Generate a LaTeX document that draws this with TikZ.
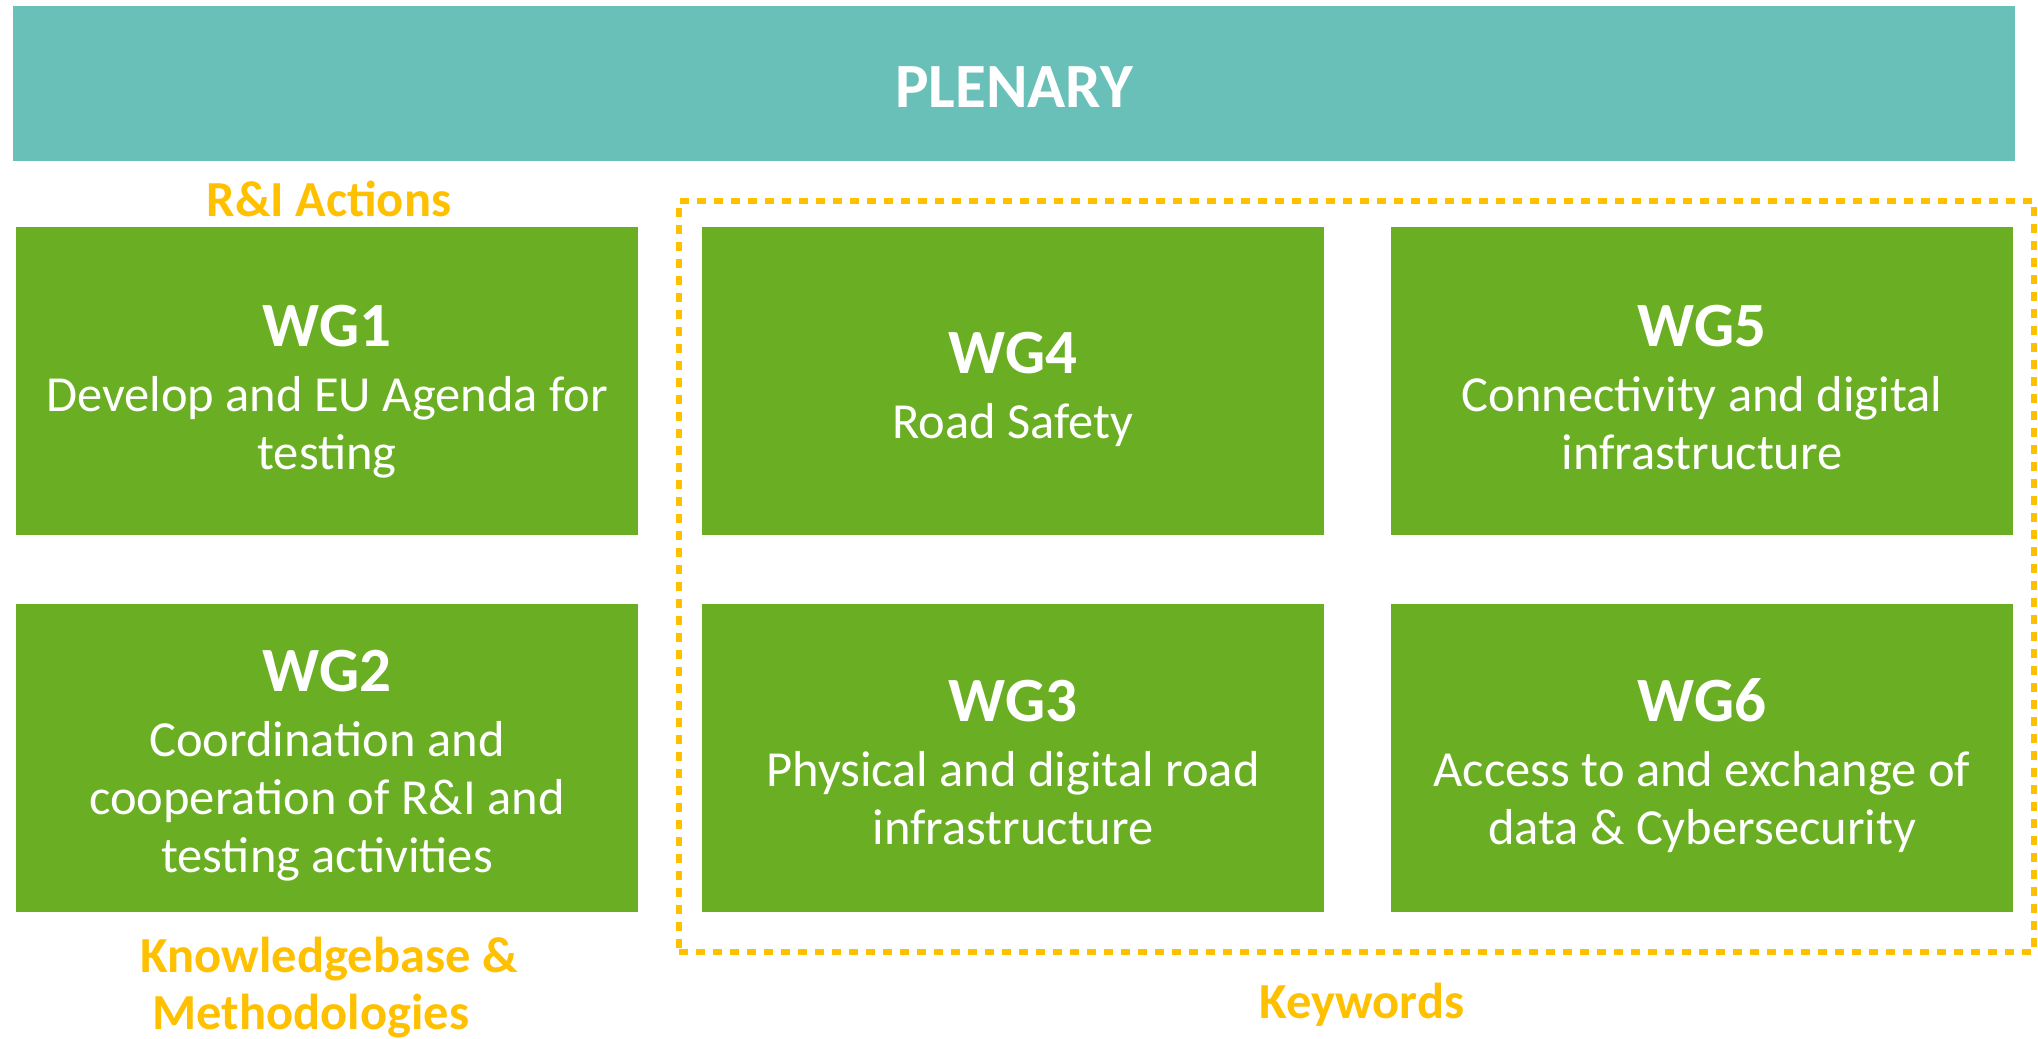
\documentclass[tikz,border=0pt]{standalone}
\usepackage{fontspec}
\setmainfont{Carlito}
\definecolor{plenteal}{HTML}{69C0B9}
\definecolor{wggreen}{HTML}{6AAF23}
\definecolor{labgold}{HTML}{FFC000}
\newcommand{\headfnt}{\bfseries\fontsize{63}{70}\selectfont}
\newcommand{\firststrut}{\rule{0pt}{50pt}}
\tikzset{
  wgbox/.style={fill=wggreen, draw=none, minimum width=622pt, minimum height=308pt, inner sep=0pt, anchor=north west},
  wgtext/.style={text=white, align=center, inner sep=0pt, anchor=north, font=\fontsize{50.5}{58}\selectfont},
  lab/.style={text=labgold, font=\bfseries\fontsize{50.5}{58}\selectfont, inner sep=0pt, anchor=base},
  keyframe/.style={draw=labgold, line width=6pt, dash pattern=on 9pt off 8pt},
}
\begin{document}
\begin{tikzpicture}[x=1pt, y=-1pt]
\useasboundingbox (0,0) rectangle (2038,1039);
% plenary
\node[fill=plenteal, minimum width=2002pt, minimum height=155pt, inner sep=0pt, anchor=north west] (plen) at (13,6) {};
\node[text=white, font=\headfnt, inner sep=0pt, anchor=base] (plentext) at (1014,107) {PLENARY};
% keyword frame
\node[keyframe, minimum width=1355pt, minimum height=751pt, inner sep=0pt, anchor=north west] (frame) at (676,198) {};
% boxes
\node[wgbox] (wg1) at (15.6,227) {};
\node[wgbox] (wg2) at (15.6,604) {};
\node[wgbox] (wg4) at (702,227) {};
\node[wgbox] (wg3) at (702,604) {};
\node[wgbox] (wg5) at (1391,227) {};
\node[wgbox] (wg6) at (1391,604) {};
% texts
\node[wgtext] (t1) at (327,296) {\firststrut{\headfnt WG1}\\[7pt]Develop and EU Agenda for\\testing};
\node[wgtext] (t2) at (327,641) {\firststrut{\headfnt WG2}\\[7pt]Coordination and\\cooperation of R\&I and\\testing activities};
\node[wgtext] (t4) at (1013,323) {\firststrut{\headfnt WG4}\\[7pt]Road Safety};
\node[wgtext] (t3) at (1013,671) {\firststrut{\headfnt WG3}\\[7pt]Physical and digital road\\infrastructure};
\node[wgtext] (t5) at (1702,296) {\firststrut{\headfnt WG5}\\[7pt]Connectivity and digital\\infrastructure};
\node[wgtext] (t6) at (1702,671) {\firststrut{\headfnt WG6}\\[7pt]Access to and exchange of\\data \& Cybersecurity};
% labels
\node[lab] (ria) at (329,216) {R\&I Actions};
\node[lab] (kb1) at (329,972) {Knowledgebase \&};
\node[lab] (kb2) at (311,1029) {Methodologies};
\node[lab] (kw) at (1362,1018) {Keywords};
\end{tikzpicture}
\end{document}
